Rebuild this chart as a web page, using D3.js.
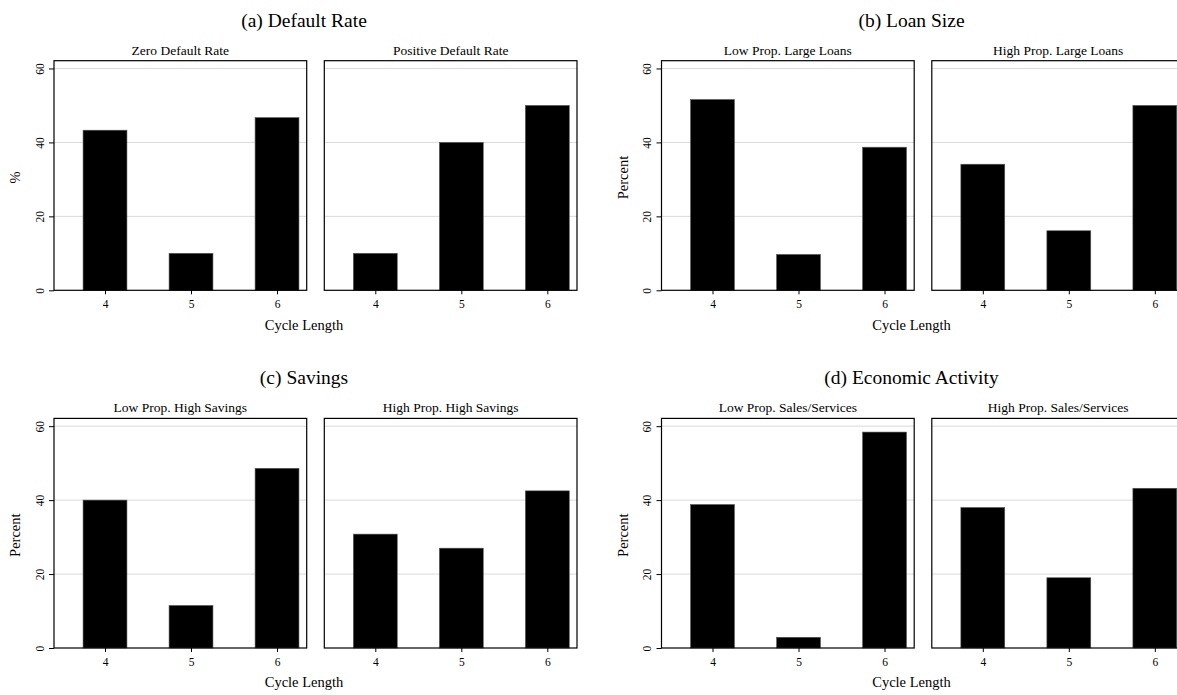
<!DOCTYPE html>
<html>
<head>
<meta charset="utf-8">
<script src="https://cdn.jsdelivr.net/npm/d3@7"></script>
<style>
  html, body { margin: 0; padding: 0; background: #fff; }
  svg { display: block; }
  text { font-family: "Liberation Serif", "Times New Roman", serif; fill: #000; }
</style>
</head>
<body>
<svg id="chart" width="1177" height="695"></svg>
<script>
// ---- data ----
const categories = [4, 5, 6];
const yTicks = [0, 20, 40, 60];
const panelTitles = ["(a) Default Rate", "(b) Loan Size", "(c) Savings", "(d) Economic Activity"];
const yAxisTitles = ["%", "Percent", "Percent", "Percent"];
const xAxisTitle = "Cycle Length";
const subTitlesA = ["Zero Default Rate", "Positive Default Rate"];
const subTitlesB = ["Low Prop. Large Loans", "High Prop. Large Loans"];
const subTitlesC = ["Low Prop. High Savings", "High Prop. High Savings"];
const subTitlesD = ["Low Prop. Sales/Services", "High Prop. Sales/Services"];
const zeroDefault = [43.3, 10.0, 46.7];
const positiveDefault = [10.0, 40.0, 50.0];
const lowLargeLoans = [51.6, 9.7, 38.7];
const highLargeLoans = [34.1, 16.1, 50.0];
const lowHighSavings = [40.0, 11.5, 48.6];
const highHighSavings = [30.8, 27.0, 42.5];
const lowSales = [38.8, 2.9, 58.4];
const highSales = [38.0, 19.0, 43.2];

const panels = [
  { title: panelTitles[0], ytitle: yAxisTitles[0], subs: subTitlesA, series: [zeroDefault, positiveDefault] },
  { title: panelTitles[1], ytitle: yAxisTitles[1], subs: subTitlesB, series: [lowLargeLoans, highLargeLoans] },
  { title: panelTitles[2], ytitle: yAxisTitles[2], subs: subTitlesC, series: [lowHighSavings, highHighSavings] },
  { title: panelTitles[3], ytitle: yAxisTitles[3], subs: subTitlesD, series: [lowSales, highSales] }
];

// ---- layout ----
const colOffset = [0, 607.5];
const rowOffset = [0, 357.7];
const plotX = [[54, 306.7], [324.3, 577]];
const plotTop = 60.7, plotBottom = 290.3;

const svg = d3.select("#chart");

panels.forEach((p, i) => {
  const ox = colOffset[i % 2];
  const oy = rowOffset[Math.floor(i / 2)];
  const g = svg.append("g").attr("transform", `translate(${ox},${oy})`);

  // panel title
  g.append("text").attr("x", 304).attr("y", 26.7)
    .attr("text-anchor", "middle").attr("font-size", 19.5).text(p.title);

  const y = d3.scaleLinear().domain([0, 62.1]).range([plotBottom, plotTop]);

  p.series.forEach((vals, j) => {
    const [x0, x1] = plotX[j];
    const x = d3.scaleLinear().domain([3.407, 6.345]).range([x0, x1]);
    const bw = x(4.255) - x(4);
    const pg = g.append("g");

    // gridlines
    pg.selectAll("line.grid").data(yTicks.filter(t => t > 0)).join("line")
      .attr("class", "grid")
      .attr("x1", x0).attr("x2", x1)
      .attr("y1", d => y(d)).attr("y2", d => y(d))
      .attr("stroke", "#dadada").attr("stroke-width", 1);

    // bars
    pg.selectAll("rect.bar").data(categories.map((c, k) => ({ c, v: vals[k] }))).join("rect")
      .attr("class", "bar")
      .attr("x", d => x(d.c) - bw)
      .attr("width", 2 * bw)
      .attr("y", d => y(d.v))
      .attr("height", d => y(0) - y(d.v))
      .attr("fill", "#000").attr("stroke", "#555").attr("stroke-width", 0.6);

    // frame
    pg.append("rect").attr("x", x0).attr("y", plotTop)
      .attr("width", x1 - x0).attr("height", plotBottom - plotTop)
      .attr("fill", "none").attr("stroke", "#000").attr("stroke-width", 1.2);

    // x axis
    const xa = pg.append("g").attr("transform", `translate(0,${plotBottom})`)
      .call(d3.axisBottom(x).tickValues(categories).tickSize(4).tickPadding(6).tickFormat(d3.format("d")));
    xa.select(".domain").remove();
    xa.selectAll("line").attr("stroke", "#000");
    xa.selectAll("text").attr("font-size", 11.5).attr("font-family", "Liberation Serif").attr("dy", "0.71em");

    // subtitle
    pg.append("text").attr("x", (x0 + x1) / 2).attr("y", 54.5)
      .attr("text-anchor", "middle").attr("font-size", 13.5).text(p.subs[j]);

    if (j === 0) {
      const ya = pg.append("g").attr("transform", `translate(${x0},0)`)
        .call(d3.axisLeft(y).tickValues(yTicks).tickSize(5).tickFormat(d3.format("d")));
      ya.select(".domain").remove();
      ya.selectAll("line").attr("stroke", "#000");
      ya.selectAll("text")
        .attr("font-size", 11.5).attr("font-family", "Liberation Serif")
        .attr("text-anchor", "middle")
        .attr("x", null).attr("dy", null)
        .attr("transform", "translate(-10.5,0) rotate(-90)");
      // y title
      g.append("text").attr("transform", `translate(20,${(plotTop + plotBottom) / 2 + 2}) rotate(-90)`)
        .attr("text-anchor", "middle").attr("font-size", 14.5).text(p.ytitle);
    }
  });

  // x axis title
  g.append("text").attr("x", 304).attr("y", 329.5)
    .attr("text-anchor", "middle").attr("font-size", 14.5).text(xAxisTitle);
});
</script>
</body>
</html>
